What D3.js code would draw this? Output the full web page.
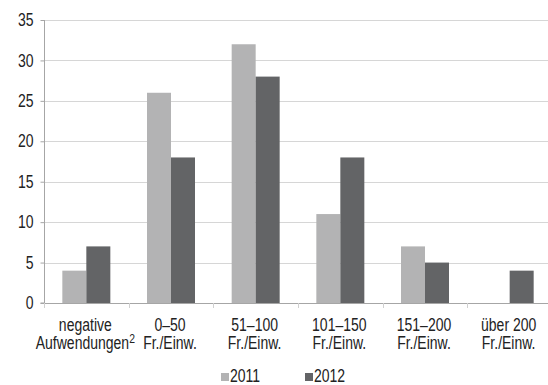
<!DOCTYPE html>
<html>
<head>
<meta charset="utf-8">
<script src="https://cdn.jsdelivr.net/npm/d3@7"></script>
<style>
  html, body { margin: 0; padding: 0; background: #fff; }
  svg { display: block; }
  text { font-family: "Liberation Sans", Arial, sans-serif; fill: #222; }
</style>
</head>
<body>
<svg id="chart" width="548" height="385"></svg>
<script>
// Gemeinden nach Aufwendungen pro Einwohner
const categories = [
  ["negative", "Aufwendungen"],
  ["0–50", "Fr./Einw."],
  ["51–100", "Fr./Einw."],
  ["101–150", "Fr./Einw."],
  ["151–200", "Fr./Einw."],
  ["über 200", "Fr./Einw."]
];
const seriesNames = ["2011", "2012"];
const values2011 = [4, 26, 32, 11, 7, 0];
const values2012 = [7, 18, 28, 18, 5, 4];
const yTicks = [0, 5, 10, 15, 20, 25, 30, 35];
const colors = ["#b3b3b4", "#636466"];

const FONT_SIZE = 17.5;
const SQUEEZE = 0.8;   // narrow the glyphs to a condensed look

// compress each text horizontally around its anchor
function condense(sel) {
  sel.each(function () {
    const w = this.getComputedTextLength();
    this.setAttribute("textLength", (w * SQUEEZE).toFixed(2));
    this.setAttribute("lengthAdjust", "spacingAndGlyphs");
  });
}

const svg = d3.select("#chart");
const plotLeft = 44, plotRight = 552, plotTop = 20, plotBottom = 303;

const x = d3.scaleBand().domain(d3.range(categories.length)).range([plotLeft, plotRight]).padding(0);
const sub = d3.scaleBand().domain([0, 1]).range([0, 48]);
const y = d3.scaleLinear().domain([0, 35]).range([plotBottom, plotTop]);

// gridlines
svg.append("g").selectAll("line").data(yTicks.filter(d => d > 0)).join("line")
  .attr("x1", plotLeft).attr("x2", 548)
  .attr("y1", d => Math.round(y(d)) + 0.5).attr("y2", d => Math.round(y(d)) + 0.5)
  .attr("stroke", "#d6d6d6").attr("stroke-width", 1);

// bars
const series = [values2011, values2012];
series.forEach((vals, si) => {
  svg.append("g").selectAll("rect").data(vals).join("rect")
    .attr("x", (d, i) => x(i) + x.bandwidth() / 2 - 24 + sub(si))
    .attr("width", sub.bandwidth())
    .attr("y", d => y(d))
    .attr("height", d => y(0) - y(d))
    .attr("fill", colors[si]);
});

// y axis
const yAxis = d3.axisLeft(y).tickValues(yTicks).tickSize(4).tickPadding(7);
const gy = svg.append("g").attr("transform", `translate(${plotLeft + 0.5},0)`).call(yAxis);
gy.select(".domain").attr("stroke", "#a6a6a6").attr("d", `M-4,${y(0)}H0V${plotTop}`);
gy.selectAll(".tick line").attr("stroke", "#a6a6a6");
gy.selectAll(".tick text").attr("font-size", FONT_SIZE).attr("fill", "#222")
  .attr("font-family", '"Liberation Sans", Arial, sans-serif')
  .call(condense);

// x axis line and boundary ticks
svg.append("line").attr("x1", plotLeft).attr("x2", 548)
  .attr("y1", plotBottom + 0.5).attr("y2", plotBottom + 0.5).attr("stroke", "#a6a6a6");
svg.append("g").selectAll("line").data(d3.range(categories.length + 1)).join("line")
  .attr("x1", i => Math.round(plotLeft + i * x.step()) + 0.5)
  .attr("x2", i => Math.round(plotLeft + i * x.step()) + 0.5)
  .attr("y1", plotBottom).attr("y2", plotBottom + 5)
  .attr("stroke", "#d0d0d0");

// category labels, two lines each
const labels = svg.append("g").attr("font-size", FONT_SIZE).attr("text-anchor", "middle");
labels.selectAll("text.l1").data(categories).join("text").attr("class", "l1")
  .attr("x", (d, i) => x(i) + x.bandwidth() / 2 - 1).attr("y", 331)
  .text(d => d[0]).call(condense);
const l2 = labels.selectAll("text.l2").data(categories).join("text").attr("class", "l2")
  .attr("x", (d, i) => x(i) + x.bandwidth() / 2 - 1).attr("y", 349)
  .text(d => d[1]);
l2.filter((d, i) => i === 0).append("tspan").attr("dy", -6).attr("font-size", 13).text("2");
l2.call(condense);

// legend
const legend = svg.append("g");
const legX = [221, 305];
seriesNames.forEach((name, i) => {
  legend.append("rect").attr("x", legX[i]).attr("y", 373).attr("width", 8).attr("height", 8).attr("fill", colors[i]);
  legend.append("text").attr("x", legX[i] + 9).attr("y", 381.5).attr("font-size", FONT_SIZE)
    .text(name).call(condense);
});
</script>
</body>
</html>
